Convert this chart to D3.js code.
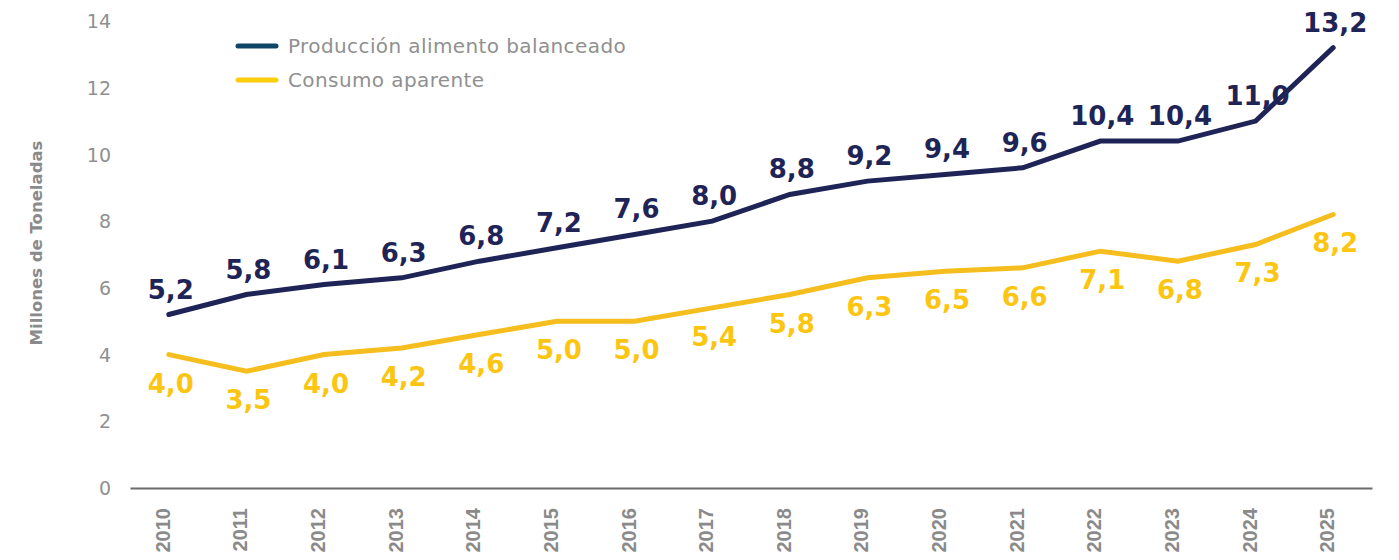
<!DOCTYPE html>
<html>
<head>
<meta charset="utf-8">
<script src="https://cdn.jsdelivr.net/npm/d3@7"></script>
<style>
  body { margin: 0; background: #fff; }
  text { font-family: "DejaVu Sans", sans-serif; }
</style>
</head>
<body>
<div id="chart"></div>
<script>
const years = ["2010", "2011", "2012", "2013", "2014", "2015", "2016", "2017",
  "2018", "2019", "2020", "2021", "2022", "2023", "2024", "2025"];
const produccion = [5.2, 5.8, 6.1, 6.3, 6.8, 7.2, 7.6, 8.0, 8.8, 9.2, 9.4, 9.6, 10.4, 10.4, 11.0, 13.2];
const consumo = [4.0, 3.5, 4.0, 4.2, 4.6, 5.0, 5.0, 5.4, 5.8, 6.3, 6.5, 6.6, 7.1, 6.8, 7.3, 8.2];
const yTicks = [0, 2, 4, 6, 8, 10, 12, 14];
const seriesNames = ["Producción alimento balanceado", "Consumo aparente"];

const w = 1399;
const h = 560;
const margin = { top: 21, right: 27, bottom: 72, left: 130 };

const navy = "#1f2457";
const yellow = "#f5be1e";
const yellowText = "#fcc512";
const grey = "#8a8a8a";

const svg = d3.select("#chart")
  .append("svg")
  .attr("width", w)
  .attr("height", h);

const x = d3.scaleBand()
  .domain(years)
  .range([margin.left, w - margin.right]);

const y = d3.scaleLinear()
  .domain([0, 14])
  .range([h - margin.bottom, margin.top]);

// y axis, no line
const yAxis = svg.append("g")
  .attr("transform", `translate(${margin.left - 19},0)`)
  .call(d3.axisLeft(y).tickValues(yTicks).tickSize(0).tickPadding(0));
yAxis.select(".domain").remove();
yAxis.selectAll("text")
  .attr("fill", "#909090")
  .style("font-family", "DejaVu Sans, sans-serif")
  .style("font-size", "19px")
  .attr("dy", "0.35em");

// x axis
const xAxis = svg.append("g")
  .attr("transform", `translate(0,${y(0)})`)
  .call(d3.axisBottom(x).tickSize(0));
xAxis.select(".domain").attr("stroke", "#6b6b6b").attr("stroke-width", 2);
xAxis.selectAll("text")
  .attr("fill", grey)
  .style("font-family", "Liberation Sans, sans-serif")
  .style("font-weight", "bold")
  .style("font-size", "20px")
  .attr("transform", "rotate(-90)")
  .attr("text-anchor", "end")
  .attr("x", -20)
  .attr("y", -6)
  .attr("dy", "0.35em");

svg.append("text")
  .attr("transform", `translate(42,243) rotate(-90)`)
  .attr("text-anchor", "middle")
  .attr("fill", grey)
  .style("font-family", "DejaVu Sans, sans-serif")
  .style("font-weight", "bold")
  .style("font-size", "16.5px")
  .text("Millones de Toneladas");

const cx = (d, i) => x(years[i]) + x.bandwidth() / 2;
const line = d3.line()
  .x(cx)
  .y((d) => y(d));

svg.append("path")
  .datum(consumo)
  .attr("d", line)
  .attr("fill", "none")
  .attr("stroke", yellow)
  .attr("stroke-width", 5)
  .attr("stroke-linecap", "round");

svg.append("path")
  .datum(produccion)
  .attr("d", line)
  .attr("fill", "none")
  .attr("stroke", navy)
  .attr("stroke-width", 5)
  .attr("stroke-linecap", "round");

const fmt = (v) => v.toFixed(1).replace(".", ",");

svg.selectAll(".lab-prod")
  .data(produccion)
  .enter()
  .append("text")
  .attr("class", "lab-prod")
  .attr("x", (d, i) => cx(d, i) + 2)
  .attr("y", (d) => y(d) - 16)
  .attr("text-anchor", "middle")
  .attr("fill", navy)
  .style("font-weight", "bold")
  .style("font-size", "26px")
  .text(fmt);

svg.selectAll(".lab-cons")
  .data(consumo)
  .enter()
  .append("text")
  .attr("class", "lab-cons")
  .attr("x", (d, i) => cx(d, i) + 2)
  .attr("y", (d) => y(d) + 38)
  .attr("text-anchor", "middle")
  .attr("fill", yellowText)
  .style("font-weight", "bold")
  .style("font-size", "26px")
  .text(fmt);

// legend
const legend = svg.append("g").attr("transform", "translate(238,46)");
const legendColors = ["#0f4668", "#ffcd0a"];
seriesNames.forEach((name, i) => {
  legend.append("line")
    .attr("x1", 0).attr("x2", 38)
    .attr("y1", i * 34).attr("y2", i * 34)
    .attr("stroke", legendColors[i])
    .attr("stroke-width", 5)
    .attr("stroke-linecap", "round");
  legend.append("text")
    .attr("x", 50)
    .attr("y", i * 34)
    .attr("dy", "0.35em")
    .attr("fill", "#909090")
    .style("font-family", "DejaVu Sans, sans-serif")
    .style("font-size", "20px")
    .style("letter-spacing", "0.4px")
    .text(name);
});
</script>
</body>
</html>
